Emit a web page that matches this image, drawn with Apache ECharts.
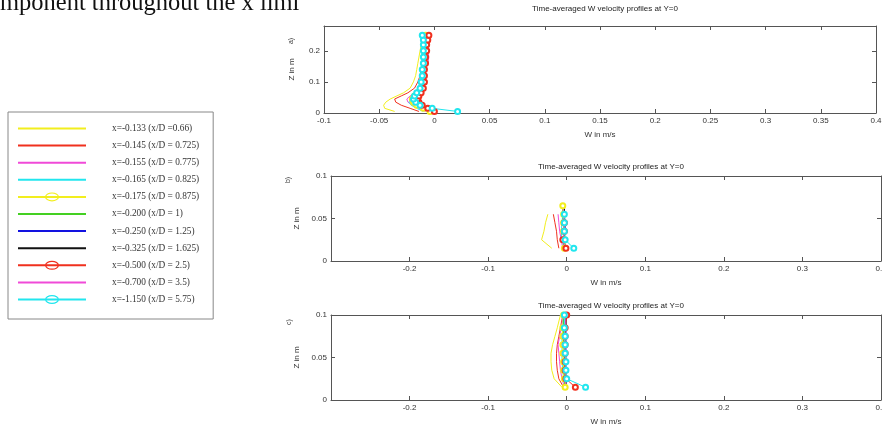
<!DOCTYPE html>
<html>
<head>
<meta charset="utf-8">
<script src="https://cdn.jsdelivr.net/npm/echarts@6/dist/echarts.min.js"></script>
<style>
html,body{margin:0;padding:0;background:#fff;}
#chart{width:882px;height:427px;}
</style>
</head>
<body>
<div id="chart"></div>
<script>
// ---- legend / series names ----
const seriesNames = [
  'x=-0.133 (x/D =0.66)',
  'x=-0.145 (x/D = 0.725)',
  'x=-0.155 (x/D = 0.775)',
  'x=-0.165 (x/D = 0.825)',
  'x=-0.175 (x/D = 0.875)',
  'x=-0.200 (x/D = 1)',
  'x=-0.250 (x/D = 1.25)',
  'x=-0.325 (x/D = 1.625)',
  'x=-0.500 (x/D = 2.5)',
  'x=-0.700 (x/D = 3.5)',
  'x=-1.150 (x/D = 5.75)'
];
const seriesColors = ['#f2ee1e','#f0301e','#f04ad8','#22e6ee','#f2ee1e','#44d022','#1212e0','#111111','#f0301e','#f04ad8','#22e6ee'];
const seriesMarkers = [false,false,false,false,true,false,false,false,true,false,true];

// ---- panel a: heights (m) and W velocities (m/s) ----
const zA = [0.005,0.015,0.025,0.035,0.045,0.055,0.065,0.08,0.10,0.12,0.14,0.16,0.18,0.20,0.22,0.235,0.25];
const wA_0133 = [-0.036,-0.045,-0.046,-0.044,-0.040,-0.034,-0.028,-0.022,-0.019,-0.017,-0.016,-0.015,-0.014,-0.013,-0.012,-0.011,-0.010];
const wA_0145 = [-0.014,-0.022,-0.030,-0.035,-0.036,-0.030,-0.024,-0.018,-0.015,-0.013,-0.012,-0.011,-0.011,-0.010,-0.010,-0.009,-0.008];
const wA_0155 = [-0.008,-0.014,-0.020,-0.024,-0.025,-0.022,-0.018,-0.013,-0.011,-0.010,-0.008,-0.006,-0.005,-0.006,-0.006,-0.007,-0.008];
const wA_0165 = [-0.010,-0.016,-0.021,-0.023,-0.022,-0.019,-0.016,-0.013,-0.012,-0.011,-0.011,-0.010,-0.010,-0.010,-0.011,-0.012,-0.012];
const wA_0175 = [-0.004,-0.010,-0.016,-0.019,-0.020,-0.018,-0.015,-0.012,-0.011,-0.010,-0.010,-0.009,-0.009,-0.009,-0.009,-0.009,-0.008];
const wA_0200 = [-0.006,-0.011,-0.015,-0.017,-0.017,-0.015,-0.013,-0.011,-0.010,-0.010,-0.009,-0.009,-0.008,-0.008,-0.008,-0.008,-0.008];
const wA_0250 = [-0.004,-0.009,-0.013,-0.015,-0.015,-0.013,-0.012,-0.010,-0.009,-0.009,-0.008,-0.008,-0.008,-0.007,-0.007,-0.007,-0.007];
const wA_0325 = [-0.003,-0.008,-0.012,-0.014,-0.014,-0.013,-0.011,-0.010,-0.009,-0.009,-0.008,-0.008,-0.008,-0.008,-0.007,-0.007,-0.007];
const wA_0500 = [0.000,-0.006,-0.011,-0.014,-0.015,-0.014,-0.012,-0.010,-0.009,-0.009,-0.009,-0.008,-0.008,-0.007,-0.007,-0.006,-0.005];
const wA_0700 = [-0.002,-0.008,-0.013,-0.016,-0.017,-0.015,-0.013,-0.011,-0.010,-0.009,-0.009,-0.009,-0.008,-0.008,-0.008,-0.008,-0.008];
const wA_1150 = [0.021,-0.002,-0.013,-0.017,-0.019,-0.018,-0.016,-0.013,-0.012,-0.011,-0.011,-0.010,-0.010,-0.010,-0.010,-0.010,-0.011];

// ---- panel b ----
const zB = [0.015,0.025,0.035,0.045,0.055,0.065];
const wB_0133 = [-0.019,-0.032,-0.029,-0.027,-0.024,null];
const wB_0145 = [-0.010,-0.012,-0.013,-0.015,-0.017,null];
const wB_0155 = [-0.005,-0.007,-0.009,-0.010,-0.011,null];
const wB_0165 = [-0.003,-0.006,-0.007,-0.006,-0.005,null];
const wB_0175 = [-0.003,-0.003,-0.004,-0.004,-0.004,-0.005];
const wB_0200 = [-0.001,-0.003,-0.003,-0.004,-0.005,-0.005];
const wB_0250 = [-0.003,-0.003,-0.002,-0.002,-0.003,-0.003];
const wB_0325 = [-0.003,-0.003,-0.003,-0.003,-0.003,-0.003];
const wB_0500 = [-0.001,-0.005,-0.003,-0.003,null,null];
const wB_0700 = [-0.002,-0.004,-0.004,-0.004,-0.004,-0.005];
const wB_1150 = [0.009,-0.002,-0.003,-0.003,-0.003,null];

// ---- panel c ----
const zC = [0.015,0.025,0.035,0.045,0.055,0.065,0.075,0.085,0.10];
const wC_0133 = [-0.006,-0.016,-0.019,-0.020,-0.020,-0.018,-0.015,-0.012,-0.008];
const wC_0145 = [-0.004,-0.010,-0.012,-0.013,-0.013,-0.012,-0.010,-0.008,-0.005];
const wC_0155 = [-0.003,-0.006,-0.008,-0.009,-0.010,-0.011,-0.009,-0.007,-0.004];
const wC_0165 = [-0.002,-0.004,-0.005,-0.006,-0.006,-0.006,-0.006,-0.005,-0.004];
const wC_0175 = [-0.002,-0.003,-0.004,-0.004,-0.005,-0.005,-0.005,-0.005,-0.004];
const wC_0200 = [-0.002,-0.003,-0.003,-0.003,-0.003,-0.004,-0.004,-0.004,-0.004];
const wC_0250 = [-0.001,-0.001,-0.001,-0.001,-0.001,-0.001,-0.001,-0.001,-0.001];
const wC_0325 = [-0.001,-0.001,-0.002,-0.002,-0.002,-0.002,-0.002,-0.001,-0.001];
const wC_0500 = [0.011,-0.001,-0.002,-0.002,-0.002,-0.002,-0.002,-0.002,0.000];
const wC_0700 = [-0.001,-0.002,-0.002,-0.002,-0.002,-0.003,-0.003,-0.002,-0.002];
const wC_1150 = [0.024,0.000,-0.001,-0.001,-0.002,-0.002,-0.002,-0.003,-0.003];

const panelTitle = 'Time-averaged W velocity profiles at Y=0';
const panelTags = ['a)','b)','c)'];
const xLabelText = 'W in m/s';
const yLabelText = 'Z in m';
const topText = 'mponent throughout the x limi';

const panels = [
  {z: zA, w: [wA_0133,wA_0145,wA_0155,wA_0165,wA_0175,wA_0200,wA_0250,wA_0325,wA_0500,wA_0700,wA_1150],
   xMin: -0.1, xMax: 0.4, xInt: 0.05, yMin: 0, yMax: 0.28, yInt: 0.1,
   grid: {left: 324, right: 6, top: 26, bottom: 314}, nameGapY: 28, tagX: 291, tagY: 41, titleY: 0},
  {z: zB, w: [wB_0133,wB_0145,wB_0155,wB_0165,wB_0175,wB_0200,wB_0250,wB_0325,wB_0500,wB_0700,wB_1150],
   xMin: -0.3, xMax: 0.4, xInt: 0.1, yMin: 0, yMax: 0.1, yInt: 0.05,
   grid: {left: 331, right: 1, top: 176, bottom: 166}, nameGapY: 30, tagX: 288, tagY: 180, titleY: 158},
  {z: zC, w: [wC_0133,wC_0145,wC_0155,wC_0165,wC_0175,wC_0200,wC_0250,wC_0325,wC_0500,wC_0700,wC_1150],
   xMin: -0.3, xMax: 0.4, xInt: 0.1, yMin: 0, yMax: 0.1, yInt: 0.05,
   grid: {left: 331, right: 1, top: 315, bottom: 27}, nameGapY: 30, tagX: 289, tagY: 322, titleY: 297}
];

const axisFont = {fontFamily: 'Liberation Sans, Arial, sans-serif', fontSize: 8, color: '#333'};
const frameLine = {show: true, lineStyle: {color: '#555', width: 1}};
const grids = [], xAxes = [], yAxes = [], series = [], titles = [], graphics = [];

function fmt(v){ return String(Math.round(v*1000)/1000); }

// legend icons: plain line, or line with an open ellipse marker
const iconLine = 'path://M0,4 L68,4 L68,6 L0,6 Z';
const iconMarker = 'path://M0,4 L68,4 L68,6 L0,6 Z M27,5 A7,4.5 0 1,1 41,5 A7,4.5 0 1,1 27,5 Z M28.2,5 A5.8,3.3 0 1,0 39.8,5 A5.8,3.3 0 1,0 28.2,5 Z';
const legendData = seriesNames.map((n, i) => ({name: n, icon: seriesMarkers[i] ? iconMarker : iconLine}));

panels.forEach((p, pi) => {
  grids.push(Object.assign({containLabel: false, outerBoundsMode: 'none'}, p.grid));
  xAxes.push({
    type: 'value', gridIndex: pi, min: p.xMin, max: p.xMax, interval: p.xInt,
    position: 'bottom', axisLine: Object.assign({onZero: false}, frameLine),
    axisTick: {inside: true, length: 4, lineStyle: {color: '#555'}},
    splitLine: {show: false},
    axisLabel: Object.assign({margin: 4, showMinLabel: pi === 0, showMaxLabel: true, hideOverlap: false, formatter: fmt}, axisFont),
    name: xLabelText, nameLocation: 'middle', nameGap: 18,
    nameTextStyle: axisFont
  });
  xAxes.push({
    type: 'value', gridIndex: pi, min: p.xMin, max: p.xMax, interval: p.xInt,
    position: 'top', axisLine: Object.assign({onZero: false}, frameLine),
    axisTick: {inside: true, length: 4, lineStyle: {color: '#555'}},
    splitLine: {show: false}, axisLabel: {show: false}
  });
  yAxes.push({
    type: 'value', gridIndex: pi, min: p.yMin, max: p.yMax, interval: p.yInt,
    position: 'left', axisLine: Object.assign({onZero: false}, frameLine),
    axisTick: {inside: true, length: 4, lineStyle: {color: '#555'}},
    splitLine: {show: false},
    axisLabel: Object.assign({margin: 4, showMaxLabel: pi !== 0, formatter: fmt}, axisFont),
    name: yLabelText, nameLocation: 'middle', nameGap: p.nameGapY, nameRotate: 90,
    nameTextStyle: axisFont
  });
  yAxes.push({
    type: 'value', gridIndex: pi, min: p.yMin, max: p.yMax, interval: p.yInt,
    position: 'right', axisLine: Object.assign({onZero: false}, frameLine),
    axisTick: {inside: true, length: 4, lineStyle: {color: '#555'}},
    splitLine: {show: false}, axisLabel: {show: false}
  });
  const cx = p.grid.left + (882 - p.grid.left - p.grid.right) / 2;
  titles.push({
    text: panelTitle, left: cx, top: p.titleY, textAlign: 'center',
    textStyle: {fontFamily: 'Liberation Sans, Arial, sans-serif', fontSize: 8, fontWeight: 'normal', color: '#222'}
  });
  graphics.push({
    type: 'text', x: p.tagX, y: p.tagY, rotation: Math.PI / 2,
    style: {text: panelTags[pi], fill: '#333', font: '7px Liberation Sans, Arial, sans-serif', textAlign: 'center', textVerticalAlign: 'middle'}
  });
  p.w.forEach((wArr, si) => {
    const data = [];
    p.z.forEach((zv, k) => { if (wArr[k] !== null) data.push([wArr[k], zv]); });
    series.push({
      type: 'line', name: seriesNames[si], xAxisIndex: pi * 2, yAxisIndex: pi * 2,
      data: data, color: seriesColors[si],
      symbol: seriesMarkers[si] ? 'emptyCircle' : 'none', symbolSize: 5,
      showSymbol: seriesMarkers[si],
      lineStyle: {width: 1, color: seriesColors[si]},
      itemStyle: {color: seriesColors[si], borderWidth: 1},
      animation: false, silent: true
    });
  });
});

graphics.push({
  type: 'text', x: 0, y: -9,
  style: {text: topText, fill: '#111', font: '24.5px Liberation Serif, Times New Roman, serif'}
});

const chart = echarts.init(document.getElementById('chart'), null, {renderer: 'canvas'});
chart.setOption({
  animation: false,
  backgroundColor: '#fff',
  title: titles,
  grid: grids,
  xAxis: xAxes,
  yAxis: yAxes,
  legend: {
    data: legendData,
    orient: 'vertical', left: 8, top: 112,
    itemWidth: 68, itemHeight: 10, itemGap: 8.1,
    padding: [12, 14, 15, 10],
    borderColor: '#888', borderWidth: 1, backgroundColor: '#fff',
    symbolKeepAspect: true,
    itemStyle: {borderWidth: 0},
    textStyle: {fontFamily: 'Liberation Serif, Times New Roman, serif', fontSize: 9.3, color: '#333', padding: [0, 0, 0, 21]},
    selectedMode: false
  },
  graphic: graphics,
  series: series
});
</script>
</body>
</html>
